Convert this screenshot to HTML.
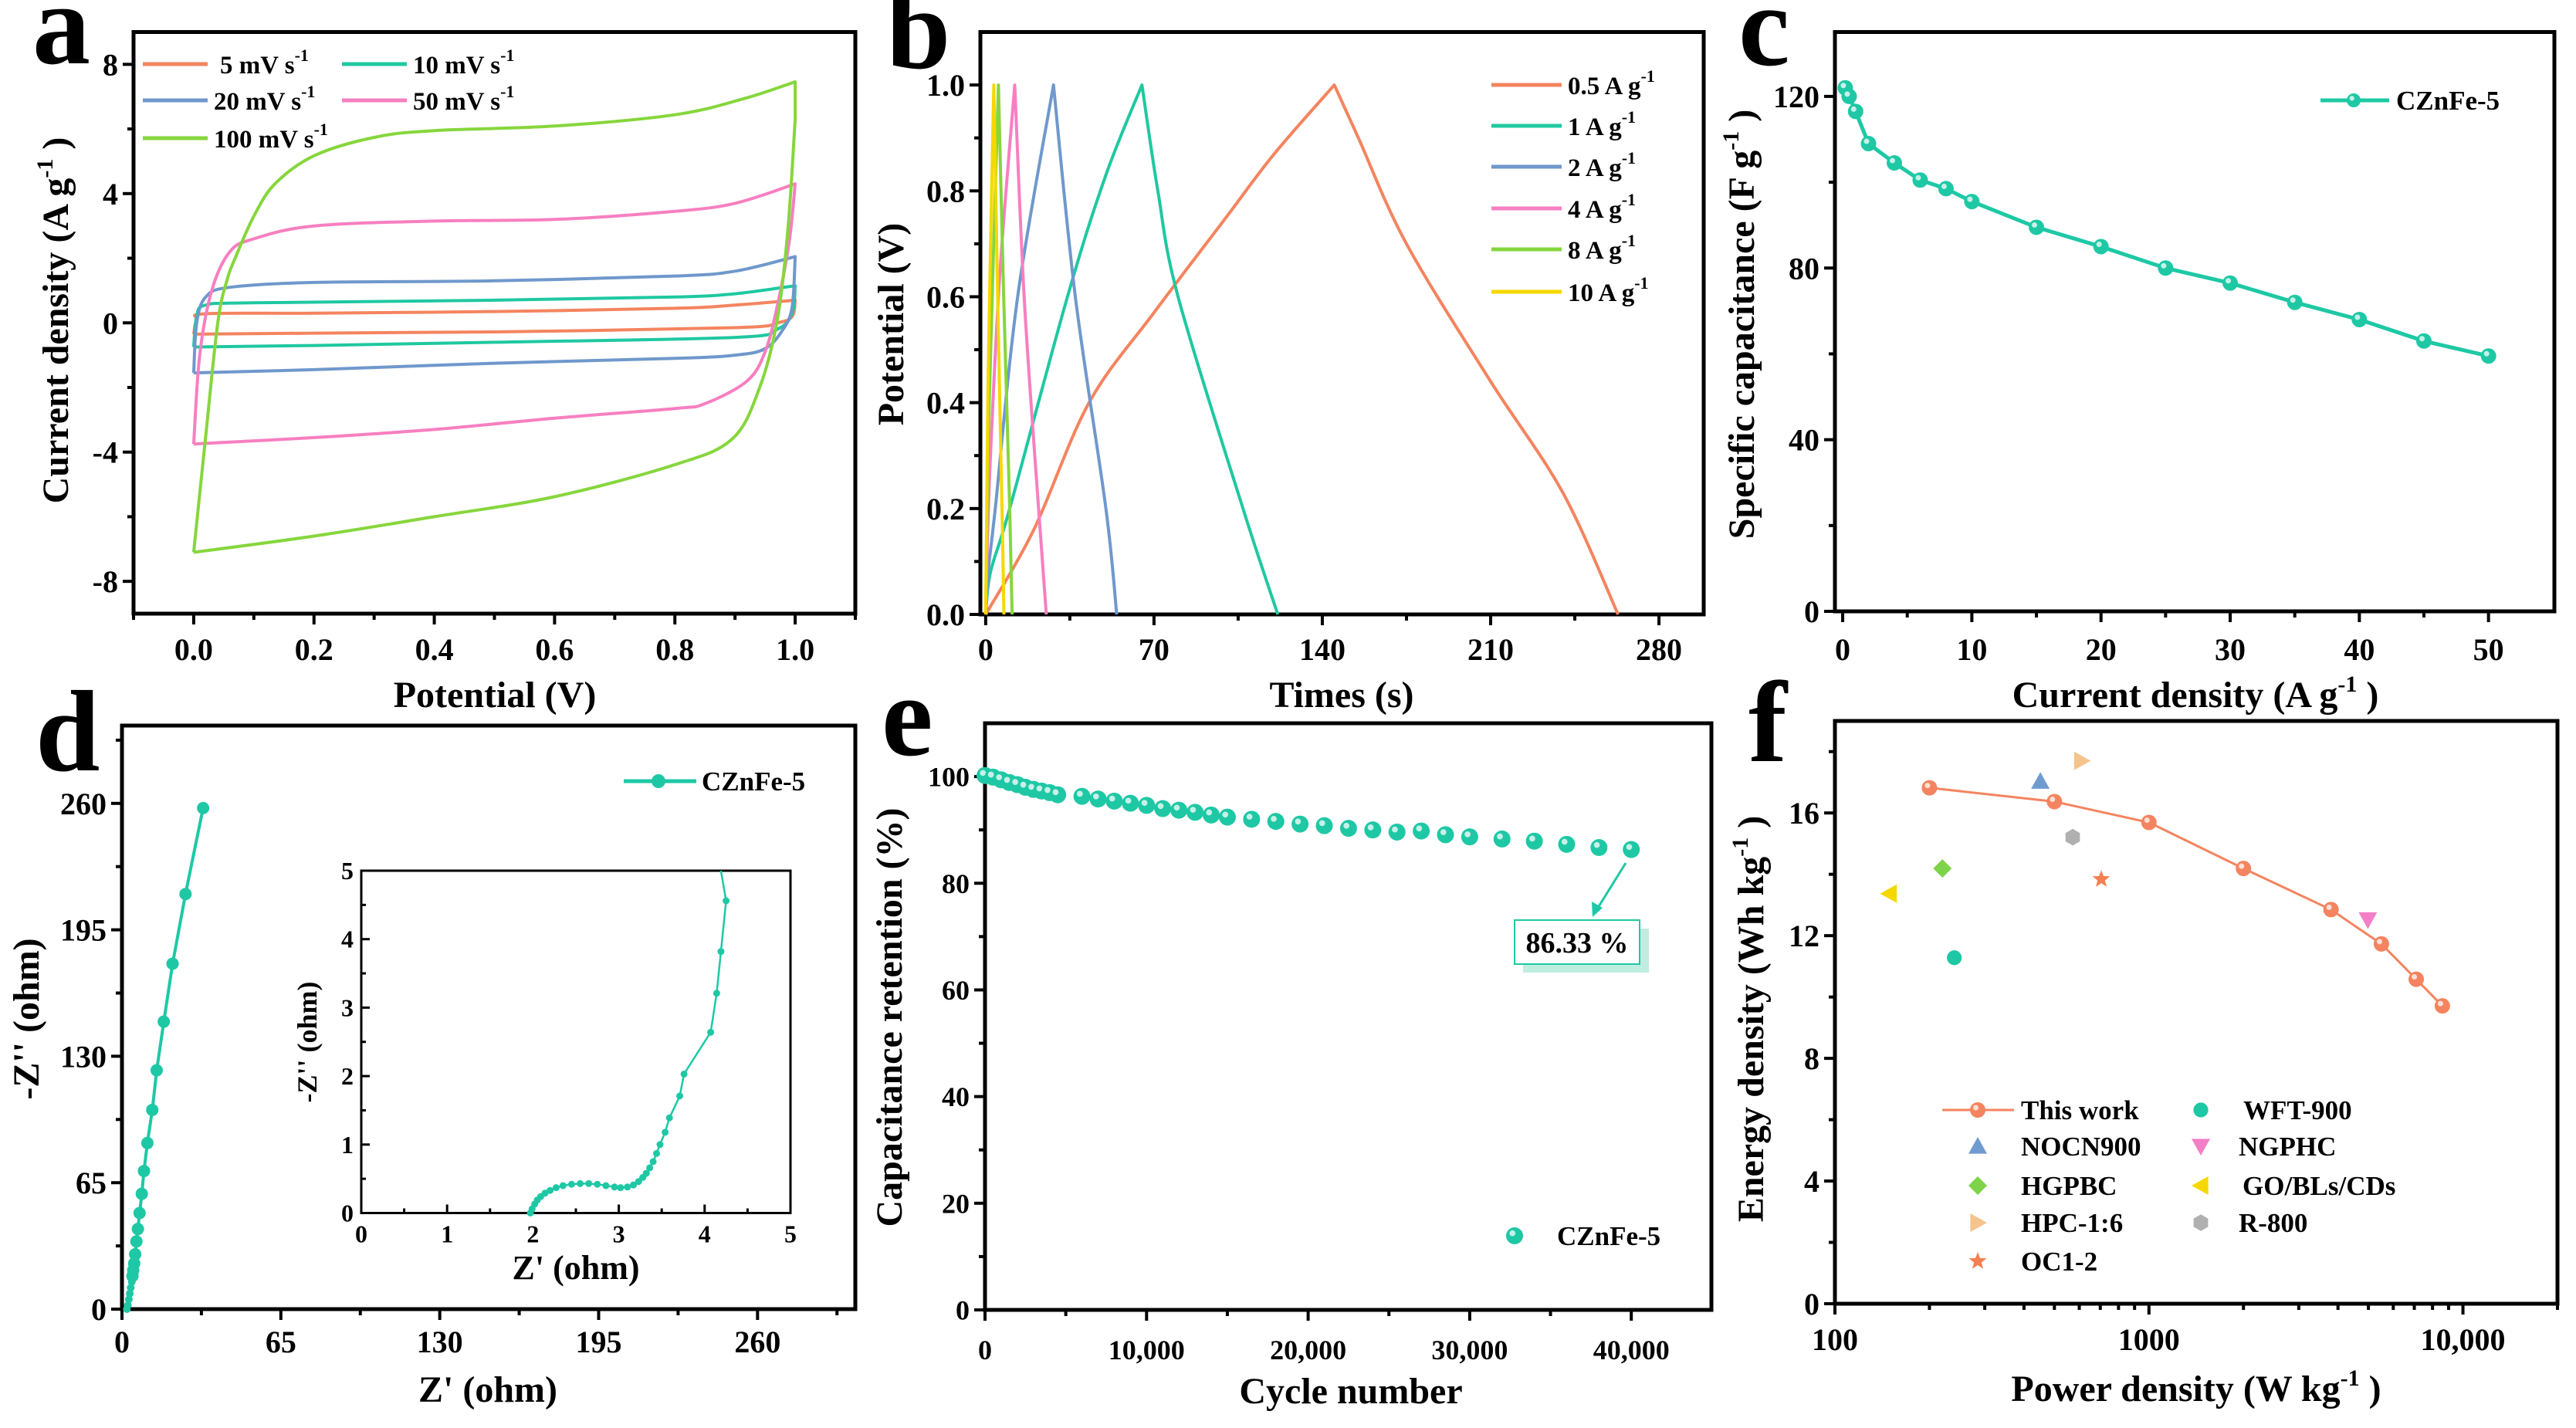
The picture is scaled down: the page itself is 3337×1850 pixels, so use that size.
<!DOCTYPE html>
<html><head><meta charset="utf-8"><style>
html,body{margin:0;padding:0;background:#fff;}
svg{display:block;}
text{font-family:"Liberation Serif",serif;font-weight:bold;fill:#000;}
</style></head><body>
<svg id="fig" xmlns="http://www.w3.org/2000/svg" width="3337" height="1850" viewBox="0 0 3337 1850">
<rect x="0" y="0" width="3337" height="1850" fill="#fff"/>
</svg>
<script>
// ---------- DATA ----------
const cvLabels = ["5 mV s","10 mV s","20 mV s","50 mV s","100 mV s"];
const cvColors = ["#f4845f","#1fc8a0","#6f98cc","#f77fc0","#86d63c"];
const cv5 = [[0,-0.35],[0.005,0.1],[0.02,0.28],[0.2,0.3],[0.5,0.35],[0.8,0.45],[0.9,0.55],[1,0.7],[0.995,0.2],[0.97,0],[0.9,-0.15],[0.5,-0.28],[0.2,-0.32],[0,-0.35]];
const cv10 = [[0,-0.75],[0.005,0.2],[0.02,0.55],[0.1,0.62],[0.5,0.7],[0.8,0.8],[0.9,0.9],[1,1.15],[0.995,0.3],[0.97,-0.2],[0.9,-0.45],[0.5,-0.6],[0.2,-0.7],[0,-0.75]];
const cv20 = [[0,-1.55],[0.005,0],[0.02,0.8],[0.06,1.1],[0.2,1.25],[0.5,1.3],[0.8,1.45],[0.9,1.6],[1,2.05],[0.995,0.5],[0.98,-0.2],[0.95,-0.8],[0.9,-1.0],[0.8,-1.1],[0.5,-1.25],[0.2,-1.45],[0,-1.55]];
const cv50 = [[0,-3.75],[0.01,-1],[0.03,1],[0.06,2.2],[0.1,2.6],[0.2,3.0],[0.4,3.15],[0.6,3.2],[0.8,3.45],[0.9,3.7],[1,4.3],[0.99,2.5],[0.97,0.5],[0.95,-0.9],[0.92,-1.8],[0.85,-2.5],[0.8,-2.65],[0.6,-2.95],[0.4,-3.3],[0.2,-3.55],[0,-3.75]];
const cv100 = [[0,-7.1],[0.02,-3.5],[0.04,0],[0.055,1.3],[0.07,2.05],[0.1,3.3],[0.135,4.3],[0.2,5.17],[0.3,5.74],[0.4,5.95],[0.6,6.09],[0.8,6.44],[0.915,6.94],[1,7.46],[1,6.3],[0.988,2.9],[0.97,0.07],[0.94,-2.05],[0.895,-3.6],[0.8,-4.39],[0.6,-5.38],[0.4,-6.0],[0.2,-6.6],[0,-7.1]];
const gcdLabels = ["0.5 A g","1 A g","2 A g","4 A g","8 A g","10 A g"];
const gcdColors = ["#f4845f","#1fc8a0","#6f98cc","#f77fc0","#86d63c","#f5d800"];
const gcd05 = [[0,0],[20,0.16],[43,0.4],[70,0.57],[100,0.75],[120,0.87],[145,1],[155,0.9],[175,0.7],[210,0.44],[240,0.23],[263,0]];
const gcd1 = [[0,0],[2,0.08],[10,0.2],[34,0.6],[50,0.83],[65,1],[71.6,0.8],[80,0.6],[107,0.2],[121.5,0]];
const gcd2 = [[0,0],[1,0.08],[4,0.2],[13.3,0.6],[28.2,1],[37.3,0.6],[50,0.2],[54.5,0]];
const gcd4 = [[0,0],[0.5,0.1],[2,0.3],[6,0.65],[12.1,1],[16,0.6],[22,0.2],[25.2,0]];
const gcd8 = [[0,0],[0.3,0.1],[1.5,0.4],[5.3,1],[7.5,0.6],[10,0.2],[11,0]];
const gcd10 = [[0,0],[0.2,0.1],[1,0.45],[3.4,1],[5,0.6],[7,0.15],[7.6,0]];
const cCurrent = [0.2,0.5,1,2,4,6,8,10,15,20,25,30,35,40,45,50];
const cCap = [122,120,116.5,109,104.5,100.5,98.5,95.5,89.5,85,80,76.5,72,68,63,59.5];
const dZre = [2,2.4,2.8,3.2,3.6,4,4.3,4.6,5,5.4,5.9,6.5,7.2,8.1,9,10.4,12.4,14.2,17.1,20.7,26,33.2];
const dZim = [0,2,5,8,11,14,17,20,23.5,28.2,34.8,41.2,49.4,59.3,71,85.4,102.4,122.8,147.8,177.6,213.4,257.6];
const dInZre = [1.97,1.99,2.02,2.05,2.09,2.14,2.2,2.27,2.35,2.45,2.55,2.65,2.75,2.85,2.95,3.02,3.1,3.17,3.23,3.28,3.32,3.36,3.4,3.44,3.48,3.54,3.59,3.71,3.76,4.07,4.14,4.19,4.25,4.19];
const dInZim = [0,0.06,0.13,0.19,0.24,0.29,0.33,0.37,0.4,0.42,0.43,0.43,0.42,0.4,0.38,0.37,0.38,0.41,0.46,0.52,0.58,0.66,0.75,0.87,1.0,1.18,1.39,1.71,2.03,2.64,3.21,3.82,4.56,5.0];
const eCycle = [0,500,1000,1500,2000,2500,3000,3500,4000,4500,6000,7000,8000,9000,10000,11000,12000,13000,14000,15000,16500,18000,19500,21000,22500,24000,25500,27000,28500,30000,32000,34000,36000,38000,40000];
const eRet = [100.2,99.9,99.4,98.9,98.5,98,97.6,97.3,97.0,96.6,96.3,95.8,95.4,95.0,94.6,94.0,93.7,93.3,92.8,92.4,92.0,91.6,91.1,90.8,90.3,90.0,89.6,89.8,89.1,88.7,88.3,87.9,87.3,86.7,86.33];
const fPower = [200,500,1000,2000,3800,5500,7100,8600];
const fEnergy = [16.82,16.37,15.69,14.19,12.85,11.73,10.58,9.71];
const refNames = ["WFT-900","NOCN900","NGPHC","HGPBC","GO/BLs/CDs","HPC-1:6","R-800","OC1-2"];
const refPower = [240,451,4980,220,149,610,572,705];
const refEnergy = [11.28,17.03,12.52,14.19,13.37,17.7,15.21,13.84];
const refShapes = ["circle","tri-up","tri-down","diamond","tri-left","tri-right","hexagon","star"];
const refColors = ["#1ec8a5","#6f9bd1","#f57fc6","#7ed348","#f5d800","#f5c48c","#b0b0b0","#f47f50"];

// ---------- HELPERS ----------
const NS = "http://www.w3.org/2000/svg";
const S = document.getElementById('fig');
function mk(tag, a, p){ const e=document.createElementNS(NS,tag); for(const k in a) e.setAttribute(k,a[k]); (p||S).appendChild(e); return e; }
function panel(L,R,T,B,xmin,xmax,ymin,ymax,log){
  const p={L,R,T,B,xmin,xmax,ymin,ymax,log};
  p.sx = v => log ? L+(Math.log10(v)-Math.log10(xmin))/(Math.log10(xmax)-Math.log10(xmin))*(R-L) : L+(v-xmin)/(xmax-xmin)*(R-L);
  p.sy = v => B-(v-ymin)/(ymax-ymin)*(B-T);
  return p;
}
function txt(s, x, y, size, anchor, parent){
  const t = mk('text',{x:x,y:y,'font-size':size,'text-anchor':anchor||'start'},parent);
  t.innerHTML = s; return t;
}
function axes(p, name, xt, xl, xm, yt, yl, ym, fs, xlabY){
  const g = mk('g',{});
  
  
  for(const v of xm){ const x=p.sx(v); mk('line',{x1:x,x2:x,y1:p.B,y2:p.B+8,stroke:'#000','stroke-width':4},g); }
  for(const v of ym){ const y=p.sy(v); mk('line',{x1:p.L-8,x2:p.L,y1:y,y2:y,stroke:'#000','stroke-width':4},g); }
  xt.forEach((v,i)=>{ const x=p.sx(v); mk('line',{x1:x,x2:x,y1:p.B,y2:p.B+14,stroke:'#000','stroke-width':4},g);
    const t=txt(xl[i],x,xlabY||p.B+60,fs,'middle',g);
    
     });
  yt.forEach((v,i)=>{ const y=p.sy(v); mk('line',{x1:p.L-14,x2:p.L,y1:y,y2:y,stroke:'#000','stroke-width':4},g);
    const t=txt(yl[i],p.L-20,y+fs*0.35,fs,'end',g);
    
     });
  const r = mk('rect',{x:p.L,y:p.T,width:p.R-p.L,height:p.B-p.T,fill:'none',stroke:'#000','stroke-width':5},g);
  
  
}
function ytitle(s,x,y,size){ const t=mk('text',{x:x,y:y,'font-size':size,'text-anchor':'middle',transform:`rotate(-90 ${x} ${y})`}); t.innerHTML=s; return t; }
function pathOf(p, pts){ return pts.map((q,i)=>(i?'L':'M')+p.sx(q[0]).toFixed(1)+' '+p.sy(q[1]).toFixed(1)).join(' '); }
function smoothPx(P, first){
  let d=(first?'M':'L')+P[0][0].toFixed(1)+' '+P[0][1].toFixed(1);
  for(let i=0;i<P.length-1;i++){
    const p0=P[Math.max(0,i-1)],p1=P[i],p2=P[i+1],p3=P[Math.min(P.length-1,i+2)];
    const c1=[p1[0]+(p2[0]-p0[0])/6,p1[1]+(p2[1]-p0[1])/6], c2=[p2[0]-(p3[0]-p1[0])/6,p2[1]-(p3[1]-p1[1])/6];
    d+=` C${c1[0].toFixed(1)} ${c1[1].toFixed(1)} ${c2[0].toFixed(1)} ${c2[1].toFixed(1)} ${p2[0].toFixed(1)} ${p2[1].toFixed(1)}`;
  }
  return d;
}
// smooth path broken into segments at given indices (corners)
function smoothSegs(p, pts, breaks){
  const P = pts.map(q=>[p.sx(q[0]),p.sy(q[1])]);
  const idx=[0,...breaks,P.length-1];
  let d='';
  for(let k=0;k<idx.length-1;k++){ d+=smoothPx(P.slice(idx[k],idx[k+1]+1),k===0)+' '; }
  return d;
}
function ball(x,y,r,col,parent){
  const g=mk('g',{},parent);
  mk('circle',{cx:x,cy:y,r:r,fill:col},g);
  mk('circle',{cx:x-r*0.25,cy:y-r*0.3,r:r*0.35,fill:'#fff','fill-opacity':0.75},g);
  return g;
}
function shape(type,x,y,s,col){
  let e;
  if(type==='circle') e=mk('circle',{cx:x,cy:y,r:s*0.8,fill:col});
  else if(type==='tri-up') e=mk('polygon',{points:`${x},${y-s} ${x-s},${y+s*0.8} ${x+s},${y+s*0.8}`,fill:col});
  else if(type==='tri-down') e=mk('polygon',{points:`${x},${y+s} ${x-s},${y-s*0.8} ${x+s},${y-s*0.8}`,fill:col});
  else if(type==='tri-left') e=mk('polygon',{points:`${x-s},${y} ${x+s*0.8},${y-s} ${x+s*0.8},${y+s}`,fill:col});
  else if(type==='tri-right') e=mk('polygon',{points:`${x+s},${y} ${x-s*0.8},${y-s} ${x-s*0.8},${y+s}`,fill:col});
  else if(type==='diamond') e=mk('polygon',{points:`${x},${y-s} ${x+s},${y} ${x},${y+s} ${x-s},${y}`,fill:col});
  else if(type==='hexagon'){ let pts=[]; for(let k=0;k<6;k++){const a=Math.PI/6+k*Math.PI/3; pts.push((x+s*0.9*Math.cos(a)).toFixed(1)+','+(y+s*0.9*Math.sin(a)).toFixed(1));} e=mk('polygon',{points:pts.join(' '),fill:col}); }
  else { let pts=[]; for(let k=0;k<10;k++){const a=-Math.PI/2+k*Math.PI/5, r=k%2?s*0.42:s; pts.push((x+r*Math.cos(a)).toFixed(1)+','+(y+r*Math.sin(a)).toFixed(1));} e=mk('polygon',{points:pts.join(' '),fill:col}); }
  return e;
}
const SUP = '<tspan dy="-16" font-size="22">-1</tspan>';
const SUPB = '<tspan dy="-20" font-size="30">-1</tspan><tspan dy="20"> </tspan>';

// ---------- PANEL LETTERS ----------
[['a',42,82],['b',1148,88],['c',2252,84],['d',46,998],['e',1142,978],['f',2265,986]].forEach(l=>{
  const t=txt(l[0],l[1],l[2],150,'start');
  
  
});

// ---------- PANEL A ----------
const pa = panel(173,1108,41.5,795,-0.1,1.1,-9,9);
axes(pa,'panel-a',[0,0.2,0.4,0.6,0.8,1.0],['0.0','0.2','0.4','0.6','0.8','1.0'],[-0.1,0.1,0.3,0.5,0.7,0.9,1.1],[-8,-4,0,4,8],['-8','-4','0','4','8'],[-6,-2,2,6],40,855);
[cv5,cv10,cv20,cv50,cv100].forEach((c,i)=>{
  let k1=c.findIndex(q=>q[0]===1);
  let k2=k1; while(k2+1<c.length && c[k2+1][0]===1) k2++;
  const br = k2>k1 ? [k1,k2] : [k1];
  const e=mk('path',{d:smoothSegs(pa,c,br),fill:'none',stroke:cvColors[i],'stroke-width':4,'stroke-linejoin':'round'});
  
  
});
[[185,83,0],[443,83,1],[185,130,2],[443,130,3],[185,179,4]].forEach(r=>{
  const g=mk('g',{});
  
  
  mk('line',{x1:r[0],x2:r[0]+84,y1:r[1],y2:r[1],stroke:cvColors[r[2]],'stroke-width':5},g);
  txt(cvLabels[r[2]]+SUP,r[0]+(r[2]===0?100:92),r[1]+12,33,'start',g);
});
let t;
t=txt('Potential (V)',641,916,48,'middle');  
t=ytitle('Current density (A g'+SUPB+')',88,415,48);  

// ---------- PANEL B ----------
const pb = panel(1270,2207,41.5,796,-2.2,298.6,0,1.1);
axes(pb,'panel-b',[0,70,140,210,280],['0','70','140','210','280'],[35,105,175,245],[0,0.2,0.4,0.6,0.8,1.0],['0.0','0.2','0.4','0.6','0.8','1.0'],[0.1,0.3,0.5,0.7,0.9],40,855);
[gcd05,gcd1,gcd2,gcd4,gcd8,gcd10].forEach((c,i)=>{
  const k=c.findIndex(q=>q[1]===1);
  const e=mk('path',{d:smoothSegs(pb,c,[k]),fill:'none',stroke:gcdColors[i],'stroke-width':4,'stroke-linejoin':'round'});
  
  
});
[110,163,216,270,323,378].forEach((y,i)=>{
  const g=mk('g',{});
  
  
  mk('line',{x1:1932,x2:2023,y1:y,y2:y,stroke:gcdColors[i],'stroke-width':5},g);
  txt(gcdLabels[i]+SUP,2031,y+12,33,'start',g);
});
t=txt('Times (s)',1738,916,48,'middle');  
t=ytitle('Potential (V)',1170,420,48);  

// ---------- PANEL C ----------
const pc = panel(2377,3309,41.5,792,-0.6,55.1,0,135);
axes(pc,'panel-c',[0,10,20,30,40,50],['0','10','20','30','40','50'],[5,15,25,35,45],[0,40,80,120],['0','40','80','120'],[20,60,100],40,855);
t=mk('path',{d:pathOf(pc,cCurrent.map((v,i)=>[v,cCap[i]])),fill:'none',stroke:'#1ec8a5','stroke-width':5});
 
cCurrent.forEach((v,i)=>{ const b=ball(pc.sx(v),pc.sy(cCap[i]),10,'#1ec8a5');
    });
{ const g=mk('g',{});  
  mk('line',{x1:3006,x2:3095,y1:130,y2:130,stroke:'#1ec8a5','stroke-width':5},g);
  ball(3049,130,9,'#1ec8a5',g); txt('CZnFe-5',3104,142,35,'start',g); }
t=txt('Current density (A g'+SUPB+')',2844,916,48,'middle');  
t=ytitle('Specific capacitance (F g'+SUPB+')',2272,420,48);  

// ---------- PANEL D ----------
const pd = panel(158,1108,940,1696,0,300,0,300);
axes(pd,'panel-d',[0,65,130,195,260],['0','65','130','195','260'],[32.5,97.5,162.5,227.5,292.5],[0,65,130,195,260],['0','65','130','195','260'],[32.5,97.5,162.5,227.5,292.5],40,1752);
t=mk('path',{d:pathOf(pd,dZre.map((v,i)=>[v,dZim[i]])),fill:'none',stroke:'#1ec8a5','stroke-width':4});
 
dZre.forEach((v,i)=>{ const c=mk('circle',{cx:pd.sx(v),cy:pd.sy(dZim[i]),r:i<6?5:8,fill:'#1ec8a5'});
    });
{ const g=mk('g',{});  
  mk('line',{x1:808,x2:902,y1:1012,y2:1012,stroke:'#1ec8a5','stroke-width':5},g);
  mk('circle',{cx:853,cy:1012,r:9,fill:'#1ec8a5'},g); txt('CZnFe-5',909,1024,35,'start',g); }
const pi = panel(468,1024,1128,1571.5,0,5,0,5);
{
  const g=mk('g',{});  
  for(let v=0.5;v<5;v+=1){ mk('line',{x1:pi.sx(v),x2:pi.sx(v),y1:pi.B,y2:pi.B-6,stroke:'#000','stroke-width':3},g); mk('line',{x1:pi.L,x2:pi.L+6,y1:pi.sy(v),y2:pi.sy(v),stroke:'#000','stroke-width':3},g); }
  for(let v=0;v<=5;v++){ mk('line',{x1:pi.sx(v),x2:pi.sx(v),y1:pi.B,y2:pi.B-11,stroke:'#000','stroke-width':3},g); mk('line',{x1:pi.L,x2:pi.L+11,y1:pi.sy(v),y2:pi.sy(v),stroke:'#000','stroke-width':3},g);
    txt(String(v),pi.sx(v),pi.B+38,32,'middle',g); txt(String(v),pi.L-10,pi.sy(v)+11,32,'end',g); }
  mk('rect',{x:pi.L,y:pi.T,width:pi.R-pi.L,height:pi.B-pi.T,fill:'none',stroke:'#000','stroke-width':3},g);
  txt("Z' (ohm)",746,1657,44,'middle',g);
  const yt=ytitle("-Z'' (ohm)",410,1350,36); g.appendChild(yt);
}
t=mk('path',{d:pathOf(pi,dInZre.map((v,i)=>[v,dInZim[i]])),fill:'none',stroke:'#1ec8a5','stroke-width':2.5});
 
dInZre.forEach((v,i)=>{ if(i===dInZre.length-1) return; const c=mk('circle',{cx:pi.sx(v),cy:pi.sy(dInZim[i]),r:4.5,fill:'#1ec8a5'});
    });
t=txt("Z' (ohm)",632,1816,48,'middle');  
t=ytitle("-Z'' (ohm)",50,1320,48);  

// ---------- PANEL E ----------
const pe = panel(1276,2217,937,1697,0,44960,0,110);
axes(pe,'panel-e',[0,10000,20000,30000,40000],['0','10,000','20,000','30,000','40,000'],[5000,15000,25000,35000],[0,20,40,60,80,100],['0','20','40','60','80','100'],[10,30,50,70,90],36,1761);
eCycle.forEach((v,i)=>{ const b=ball(pe.sx(v),pe.sy(eRet[i]),11,'#1ec8a5');
    });
{ const g=mk('g',{});  
  mk('rect',{x:1973,y:1203,width:163,height:57,fill:'#bfeee1'},g);
  mk('rect',{x:1962,y:1192,width:162,height:57,fill:'#fff',stroke:'#1ec8a5','stroke-width':2},g);
  txt('86.33 %',2043,1234,38,'middle',g);
  mk('line',{x1:2106,y1:1118,x2:2065,y2:1184,stroke:'#1ec8a5','stroke-width':3},g);
  mk('polygon',{points:'2063,1188 2062,1168 2076,1176',fill:'#1ec8a5'},g); }
{ const g=mk('g',{});  
  ball(1962,1601,11,'#1ec8a5',g); txt('CZnFe-5',2017,1613,35,'start',g); }
t=txt('Cycle number',1750,1818,48,'middle');  
t=ytitle('Capacitance retention (%)',1168,1318,48);  

// ---------- PANEL F ----------
const pf = panel(2377,3313,934,1689,100,20000,0,19,true);
const fMinor=[200,300,400,500,600,700,800,900,2000,3000,4000,5000,6000,7000,8000,9000,20000];
axes(pf,'panel-f',[100,1000,10000],['100','1000','10,000'],fMinor,[0,4,8,12,16],['0','4','8','12','16'],[2,6,10,14,18],40,1749);
t=mk('path',{d:pathOf(pf,fPower.map((v,i)=>[v,fEnergy[i]])),fill:'none',stroke:'#f4845f','stroke-width':3});
 
fPower.forEach((v,i)=>{ const b=ball(pf.sx(v),pf.sy(fEnergy[i]),10,'#f4845f');
    });
refPower.forEach((v,i)=>{ const e=shape(refShapes[i],pf.sx(v),pf.sy(refEnergy[i]),12,refColors[i]);
    });
{ const g=mk('g',{});  
  mk('line',{x1:2516,x2:2609,y1:1438,y2:1438,stroke:'#f4845f','stroke-width':3},g);
  ball(2562,1438,10,'#f4845f',g); txt('This work',2618,1450,35,'start',g); }
const legPos = [[2851,2906,1438],[2562,2618,1485],[2851,2900,1485],[2562,2618,1536],[2851,2905,1536],[2562,2618,1584],[2851,2900,1584],[2562,2618,1634]];
refNames.forEach((n,i)=>{ const g=mk('g',{}); 
  
  
  const s=shape(refShapes[i],legPos[i][0],legPos[i][2],12,refColors[i]); g.appendChild(s);
  txt(n,legPos[i][1],legPos[i][2]+12,35,'start',g); });
t=txt('Power density (W kg'+SUPB+')',2845,1815,48,'middle');  
t=ytitle('Energy density (Wh kg'+SUPB+')',2284,1320,48);  
</script>
</body></html>
